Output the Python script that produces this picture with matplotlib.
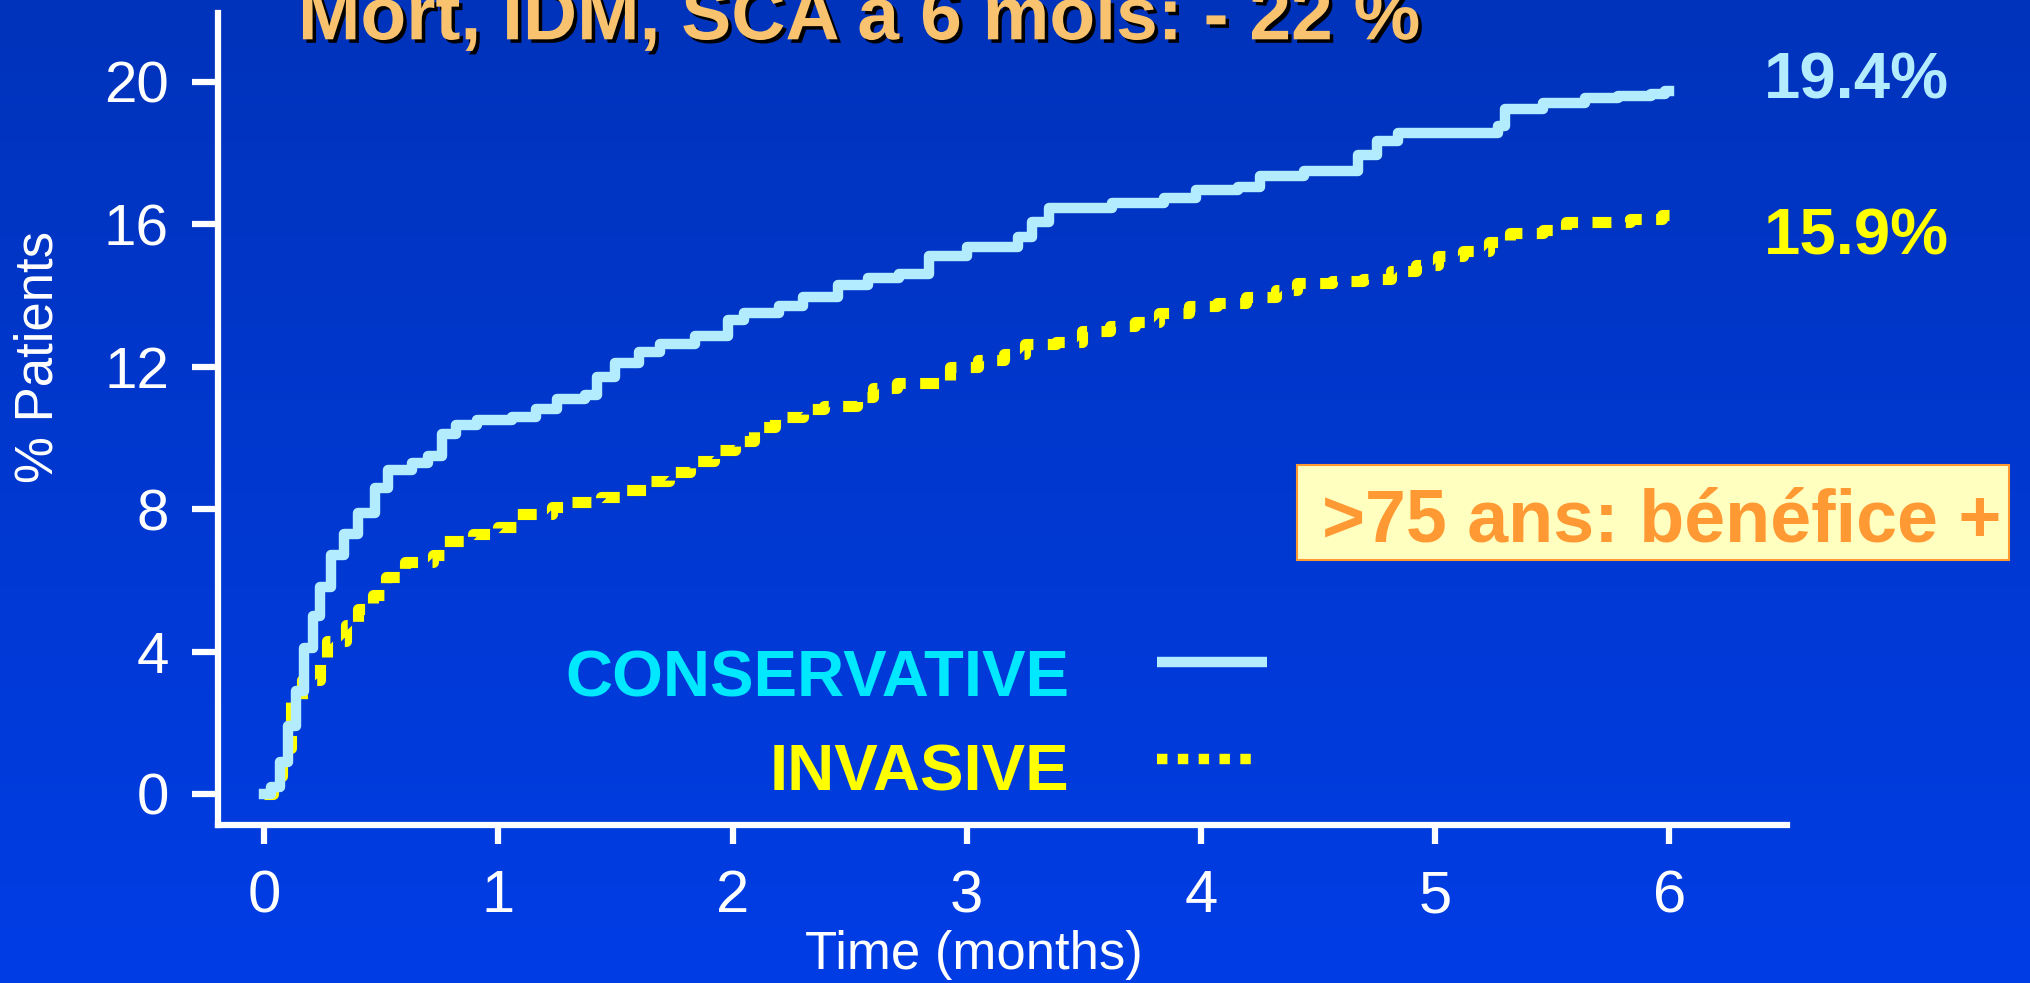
import numpy as np
import matplotlib.pyplot as plt
import matplotlib.patheffects as pe
from matplotlib.patches import Rectangle
from matplotlib.lines import Line2D

# Kaplan-Meier style curves (months, % patients)
cons_t = [0.00, 0.03, 0.066, 0.10, 0.137, 0.17, 0.21, 0.24, 0.285, 0.34, 0.40, 0.475,
          0.53, 0.63, 0.70, 0.76, 0.82, 0.91, 1.06, 1.16, 1.25, 1.37, 1.42, 1.50, 1.60,
          1.69, 1.84, 1.98, 2.05, 2.20, 2.30, 2.45, 2.58, 2.71, 2.84, 3.00, 3.22, 3.28,
          3.35, 3.62, 3.84, 3.98, 4.16, 4.25, 4.44, 4.67, 4.75, 4.84, 5.27, 5.30, 5.46,
          5.64, 5.78, 5.92, 5.98, 6.00]
cons_y = [0.0, 0.2, 0.9, 1.9, 2.9, 4.1, 5.0, 5.8, 6.7, 7.3, 7.9, 8.6,
          9.1, 9.3, 9.5, 10.1, 10.35, 10.5, 10.6, 10.8, 11.1, 11.2, 11.7, 12.1, 12.4,
          12.65, 12.85, 13.3, 13.5, 13.7, 13.95, 14.3, 14.5, 14.6, 15.1, 15.35, 15.65, 16.05,
          16.45, 16.6, 16.75, 16.95, 17.05, 17.35, 17.5, 17.95, 18.35, 18.55, 18.75, 19.25, 19.4,
          19.55, 19.6, 19.65, 19.75, 19.75]

inv_t = [0.00, 0.04, 0.076, 0.114, 0.16, 0.24, 0.27, 0.35, 0.40, 0.465, 0.52, 0.60,
         0.72, 0.77, 0.89, 1.00, 1.08, 1.23, 1.31, 1.44, 1.54, 1.65, 1.73, 1.82, 1.92,
         2.01, 2.09, 2.18, 2.30, 2.39, 2.53, 2.60, 2.70, 2.93, 3.05, 3.16, 3.25, 3.38,
         3.49, 3.61, 3.72, 3.82, 3.95, 4.07, 4.19, 4.32, 4.41, 4.56, 4.69, 4.81, 4.92,
         5.01, 5.12, 5.23, 5.32, 5.46, 5.56, 5.72, 5.83, 5.97, 6.00]
inv_y = [0.0, 0.5, 1.3, 2.6, 3.2, 3.7, 4.3, 4.75, 5.2, 5.6, 6.1, 6.5,
         6.7, 7.1, 7.3, 7.5, 7.85, 8.05, 8.2, 8.35, 8.55, 8.8, 9.05, 9.35, 9.65,
         9.9, 10.3, 10.6, 10.8, 10.9, 11.15, 11.4, 11.55, 12.0, 12.2, 12.35, 12.65, 12.7,
         13.0, 13.15, 13.25, 13.5, 13.7, 13.8, 13.95, 14.15, 14.35, 14.4, 14.45, 14.7, 14.85,
         15.1, 15.25, 15.5, 15.75, 15.85, 16.05, 16.05, 16.15, 16.25, 16.25]

x_ticks = [0, 1, 2, 3, 4, 5, 6]
y_ticks = [0, 4, 8, 12, 16, 20]
final_labels = ['19.4%', '15.9%']

sans = ['Liberation Sans', 'DejaVu Sans']

light_blue = '#B3EBFF'
yellow = '#FFFF00'

fig = plt.figure(figsize=(20.31, 9.83), dpi=100)

# blue gradient background
bg = fig.add_axes([0, 0, 1, 1], zorder=-1)
top = np.array([0, 51, 187]) / 255
bottom = np.array([0, 61, 229]) / 255
grad = np.linspace(0, 1, 256)[:, None, None] * (bottom - top) + top
bg.imshow(np.repeat(grad, 2, axis=1), aspect='auto', extent=[0, 1, 0, 1])
bg.axis('off')

ax = fig.add_axes([0.1071, 0.1607, 0.773, 0.826])
ax.patch.set_alpha(0)
ax.step(inv_t, inv_y, where='post', color=yellow, lw=8, dashes=(1.7, 1.3),
        dash_capstyle='butt', zorder=2)
ax.step(cons_t, cons_y, where='post', color=light_blue, lw=7.5, zorder=3)

ax.set_xlim(-0.199, 6.504)
ax.set_ylim(-0.873, 21.93)
ax.set_xticks(x_ticks)
ax.set_yticks(y_ticks)
ax.set_xticklabels([str(v) for v in x_ticks], family=sans, fontsize=43)
ax.set_yticklabels([str(v) for v in y_ticks], family=sans, fontsize=42)
for s in ['top', 'right']:
    ax.spines[s].set_visible(False)
for s in ['left', 'bottom']:
    ax.spines[s].set_color('white')
    ax.spines[s].set_linewidth(4.5)
ax.tick_params(axis='y', direction='out', length=19, width=4.5, colors='white', pad=16)
ax.tick_params(axis='x', direction='out', length=14, width=4.5, colors='white', pad=18)

fig.text(0.4796, 0.028, 'Time (months)', ha='center', va='center', color='white',
         fontsize=38, family=sans)
fig.text(0.0192, 0.637, '% Patients', ha='center', va='center', rotation=90,
         color='white', fontsize=38, family=sans)

fig.text(0.1467, 0.960, 'Mort, IDM, SCA à 6 mois: - 22 %', ha='left', va='baseline',
         color='#F8C26E', fontsize=54, fontweight='bold', family=sans,
         path_effects=[pe.SimplePatchShadow(offset=(2.5, -2.5), shadow_rgbFace='black', alpha=1),
                       pe.Normal()])

fig.text(0.8685, 0.9166, final_labels[0], ha='left', va='center', color=light_blue,
         fontsize=47, fontweight='bold', family=sans)
fig.text(0.8685, 0.7589, final_labels[1], ha='left', va='center', color=yellow,
         fontsize=47, fontweight='bold', family=sans)

# highlighted note
fig.add_artist(Rectangle((0.6386, 0.4303), 0.3506, 0.0966, transform=fig.transFigure,
                         facecolor='#FFFFC0', edgecolor='#FF9933', lw=1.5))
fig.text(0.8183, 0.4492, '>75 ans: bénéfice +', ha='center', va='baseline',
         color='#FF9933', fontsize=53, fontweight='bold', family=sans)

# legend
fig.text(0.5263, 0.291, 'CONSERVATIVE', ha='right', va='baseline', color='#00E8FF',
         fontsize=47, fontweight='bold', family=sans)
fig.text(0.5263, 0.196, 'INVASIVE', ha='right', va='baseline', color=yellow,
         fontsize=47, fontweight='bold', family=sans)
fig.add_artist(Line2D([0.5697, 0.6238], [0.3265, 0.3265], transform=fig.transFigure,
                      color=light_blue, lw=7.5, solid_capstyle='butt'))
fig.add_artist(Line2D([0.5697, 0.619], [0.2279, 0.2279], transform=fig.transFigure,
                      color=yellow, lw=7.5, dashes=(1, 1), dash_capstyle='butt'))

fig.savefig('out.png', dpi=100)
